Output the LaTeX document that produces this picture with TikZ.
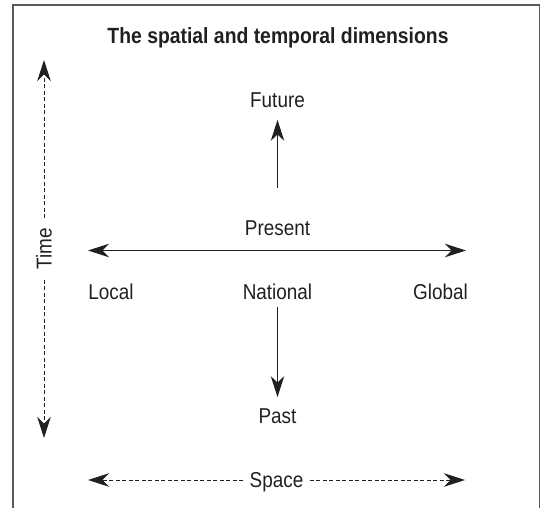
\documentclass[tikz,border=0pt]{standalone}
\usepackage{fontspec}
\usetikzlibrary{arrows.meta}
\newfontfamily\labelfont[FakeStretch=0.88]{Liberation Sans}

\definecolor{ink}{HTML}{231F20}
\definecolor{framegray}{HTML}{5A5A5A}

\tikzset{
  tip/.style={-{Stealth[length=21pt,width=13.5pt,inset=6.5pt]}},
  solidarrow/.style={tip, line width=1.2pt, ink},
  dasharrow/.style={tip, line width=1pt, ink, dash pattern=on 4pt off 2.5pt},
  word/.style={font=\labelfont\fontsize{21.5}{24}\selectfont, text=ink,
    inner sep=0pt, text height=15.4pt, text depth=0pt},
  heading/.style={font=\labelfont\bfseries\fontsize{22}{26}\selectfont, text=ink,
    inner sep=0pt, text height=15.7pt, text depth=0pt},
}

\begin{document}
\begin{tikzpicture}[x=1pt,y=-1pt]
        \useasboundingbox (0,0) rectangle (541,508);
        \draw[framegray, line width=1.5pt] (13,508) -- (13,5) -- (539.5,5) -- (539.5,508);

        \node[heading] (title) at (278,35.5) {The spatial and temporal dimensions};

        % time axis
        \coordinate (timeTop) at (44,60);
        \coordinate (timeBot) at (44,438);
        \node[word, rotate=90, inner xsep=10pt] (time) at (44,249) {Time};
        \draw[dasharrow] (time) -- (timeTop);
        \draw[dasharrow] (time) -- (timeBot);

        % centre
        \node[word] (future) at (277.5,100) {Future};
        \node[word] (present) at (277.5,228) {Present};
        \node[word] (local) at (111,292) {Local};
        \node[word] (national) at (277.5,292) {National};
        \node[word] (global) at (440.5,292) {Global};
        \node[word] (past) at (277.5,416) {Past};

        \draw[solidarrow, shorten <=32pt, shorten >=12pt] (present) -- (future);
        \draw[solidarrow, shorten <=7pt, shorten >=11pt] (national) -- (past);

        \coordinate (left) at (88,250.5);
        \coordinate (right) at (466,250.5);
        \draw[solidarrow, {Stealth[length=21pt,width=13.5pt,inset=6.5pt]}-{Stealth[length=21pt,width=13.5pt,inset=6.5pt]}] (left) -- (right);

        % space axis
        \coordinate (spaceL) at (88,480);
        \coordinate (spaceR) at (465,480);
        \node[word, inner xsep=6pt] (space) at (276.5,480) {Space};
        \draw[dasharrow] (space) -- (spaceL);
        \draw[dasharrow] (space) -- (spaceR);
\end{tikzpicture}
\end{document}
